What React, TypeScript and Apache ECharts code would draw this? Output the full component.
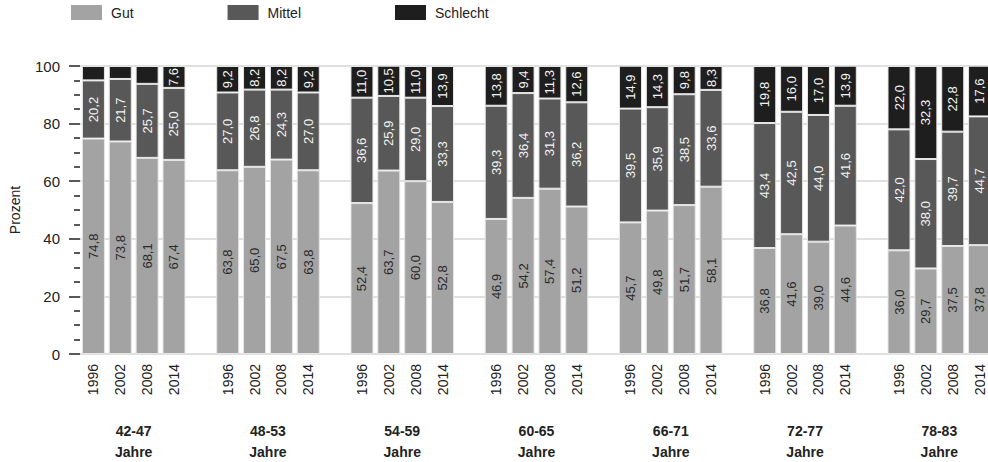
import React, { useEffect, useRef } from "react";
import * as echarts from "echarts";

const years = ["1996", "2002", "2008", "2014"];
const groups = ["42-47", "48-53", "54-59", "60-65", "66-71", "72-77", "78-83"];
const groupSuffix = "Jahre";
const yTicks = [0, 20, 40, 60, 80, 100];

const gut = [
  [74.8, 73.8, 68.1, 67.4],
  [63.8, 65.0, 67.5, 63.8],
  [52.4, 63.7, 60.0, 52.8],
  [46.9, 54.2, 57.4, 51.2],
  [45.7, 49.8, 51.7, 58.1],
  [36.8, 41.6, 39.0, 44.6],
  [36.0, 29.7, 37.5, 37.8],
];
const mittel = [
  [20.2, 21.7, 25.7, 25.0],
  [27.0, 26.8, 24.3, 27.0],
  [36.6, 25.9, 29.0, 33.3],
  [39.3, 36.4, 31.3, 36.2],
  [39.5, 35.9, 38.5, 33.6],
  [43.4, 42.5, 44.0, 41.6],
  [42.0, 38.0, 39.7, 44.7],
];
const schlecht = [
  [5.0, 4.5, 6.2, 7.6],
  [9.2, 8.2, 8.2, 9.2],
  [11.0, 10.5, 11.0, 13.9],
  [13.8, 9.4, 11.3, 12.6],
  [14.9, 14.3, 9.8, 8.3],
  [19.8, 16.0, 17.0, 13.9],
  [22.0, 32.3, 22.8, 17.6],
];

const seriesNames = ["Gut", "Mittel", "Schlecht"];
const seriesColors = ["#a3a3a3", "#585858", "#1e1e1e"];
const labelColors = ["#2a2a2a", "#f2f2f2", "#f2f2f2"];

export default function App() {
  const ref = useRef<HTMLDivElement>(null);

  useEffect(() => {
    if (!ref.current) return;
    const chart = echarts.init(ref.current, undefined, { renderer: "svg" });

    const cats: string[] = [];
    const flat = (arr: number[][]) => {
      const out: (number | string)[] = [];
      arr.forEach((g, gi) => {
        g.forEach((v) => out.push(v));
        if (gi < arr.length - 1) out.push("-");
      });
      return out;
    };
    groups.forEach((_, gi) => {
      years.forEach((y) => cats.push(y));
      if (gi < groups.length - 1) cats.push("");
    });
    const groupCats: string[] = [];
    for (let i = 0; i <= cats.length; i++) groupCats.push("");
    groups.forEach((g, gi) => {
      groupCats[gi * 5 + 2] = g + "\n" + groupSuffix;
    });

    const datasets = [gut, mittel, schlecht];
    const fmt = (v: number) => v.toFixed(1).replace(".", ",");

    const font = "'Liberation Sans', Arial, sans-serif";

    chart.setOption({
      animation: false,
      textStyle: { fontFamily: font },
      legend: {
        left: 66,
        top: 0,
        itemWidth: 31,
        itemHeight: 15,
        itemGap: 94,
        icon: "rect",
        itemStyle: { borderWidth: 0 },
        textStyle: { fontSize: 14, color: "#222", padding: [0, 0, 0, 4], fontFamily: font },
        data: seriesNames,
      },
      grid: { left: 79, right: 7, top: 66, bottom: 107 },
      xAxis: [
        {
          type: "category",
          data: cats,
          axisLine: { show: false },
          axisTick: { show: false },
          axisLabel: {
            interval: 0,
            rotate: 90,
            fontSize: 14,
            margin: 10,
            color: "#222",
            fontFamily: font,
          },
        },
        {
          type: "category",
          data: groupCats,
          boundaryGap: false,
          position: "bottom",
          offset: 0,
          axisLine: { show: false },
          axisTick: { show: false },
          splitLine: { show: false },
          axisLabel: {
            interval: 0,
            fontSize: 14,
            fontWeight: "bold",
            lineHeight: 21,
            margin: 66,
            color: "#222",
            fontFamily: "'Liberation Sans Narrow', 'Liberation Sans', Arial, sans-serif",
          },
        },
      ],
      yAxis: {
        type: "value",
        min: yTicks[0],
        max: yTicks[yTicks.length - 1],
        interval: 20,
        name: "Prozent",
        nameLocation: "middle",
        nameGap: 58,
        nameTextStyle: { fontSize: 14, color: "#222", fontFamily: font },
        axisLine: { show: false },
        axisTick: { show: true, length: 11, lineStyle: { color: "#222", width: 1.5 } },
        minorTick: { show: true, splitNumber: 4, length: 6, lineStyle: { color: "#222", width: 1.5 } },
        axisLabel: { fontSize: 15, margin: 20, color: "#222", fontFamily: font },
        splitLine: { show: true, lineStyle: { color: "#d6d6d6", width: 1.5 } },
      },
      series: datasets.map((d, i) => ({
        name: seriesNames[i],
        type: "bar",
        stack: "total",
        xAxisIndex: 0,
        barWidth: 23,
        data: flat(d),
        itemStyle: { color: seriesColors[i], borderColor: "#e6e6e6", borderWidth: 1 },
        label: {
          show: true,
          position: "inside",
          rotate: 90,
          fontSize: 13,
          color: labelColors[i],
          fontFamily: font,
          formatter: (p: any) => (typeof p.value === "number" && p.value >= 7 ? fmt(p.value) : ""),
        },
      })),
    });

    return () => chart.dispose();
  }, []);

  return (
    <div
      ref={ref}
      style={{ position: "fixed", left: 0, top: 0, width: 1000, height: 462, background: "#fff" }}
    />
  );
}
